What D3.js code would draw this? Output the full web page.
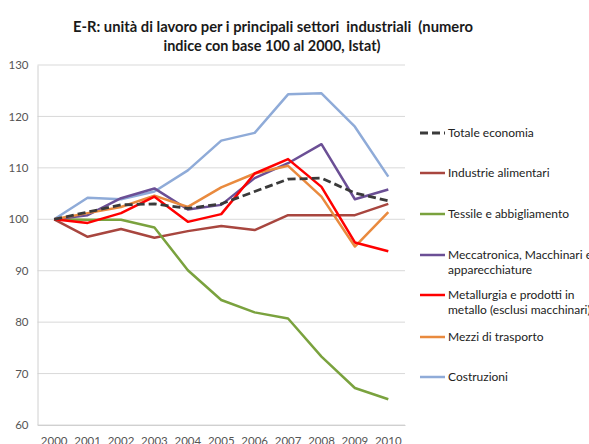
<!DOCTYPE html>
<html><head><meta charset="utf-8">
<script src="https://cdn.jsdelivr.net/npm/d3@7"></script>
<style>html,body{margin:0;padding:0;background:#fff;overflow:hidden}</style>
</head><body><svg id="c" width="589" height="444"></svg>
<script>
const years = ["2000","2001","2002","2003","2004","2005","2006","2007","2008","2009","2010"];
const yTicks = [60,70,80,90,100,110,120,130];
const seriesNames = ["Totale economia","Industrie alimentari","Tessile e abbigliamento","Meccatronica, Macchinari e apparecchiature","Metallurgia e prodotti in metallo (esclusi macchinari)","Mezzi di trasporto","Costruzioni"];
const totale =       [100,101.4,102.8,103.0,102.1,103.0,105.4,107.8,108.0,105.1,103.6];
const alimentari =   [100,96.6,98.1,96.4,97.7,98.7,97.9,100.8,100.8,100.8,103.0];
const tessile =      [100,99.9,99.9,98.4,90.1,84.3,81.9,80.7,73.3,67.2,65.0];
const meccatronica = [100,100.8,104.1,106.0,101.9,102.8,108.0,110.9,114.6,103.9,105.8];
const metallurgia =  [100,99.3,101.2,104.4,99.5,101.0,108.9,111.7,106.3,95.5,93.8];
const trasporto =    [100,101.2,102.4,104.6,102.4,106.2,108.9,110.4,104.4,94.7,101.4];
const costruzioni =  [100,104.2,103.9,105.4,109.5,115.3,116.8,124.3,124.5,118.0,108.3];

const seriesValues = [totale, alimentari, tessile, meccatronica, metallurgia, trasporto, costruzioni];
const colors = ["#3a3a3a","#a8463f","#7aa23e","#6b4f95","#ff0000","#e98a3e","#8fabd8"];
const legendLines = [["Totale economia"],["Industrie alimentari"],["Tessile e abbigliamento"],["Meccatronica, Macchinari e","apparecchiature"],["Metallurgia e prodotti in","metallo (esclusi macchinari)"],["Mezzi di trasporto"],["Costruzioni"]];
const legendY = [133,173,214,255,295,337,377];

(function(){
const svg = d3.select("#c");
const font = "Lato, 'Open Sans', sans-serif";
const pl = 37.5, pr = 405, pt = 65, pb = 425;

const x = d3.scaleBand().domain(years).range([pl, pr]);
const y = d3.scaleLinear().domain([60,130]).range([pb, pt]);

// title
const title = svg.append("text").attr("font-family", font).attr("font-weight","bold")
  .attr("font-size",15).attr("fill","#1a1a1a").attr("text-anchor","middle")
  .style("white-space","pre");
title.append("tspan").attr("x",273).attr("y",32).attr("textLength",400).attr("lengthAdjust","spacingAndGlyphs")
  .text("E-R: unità di lavoro per i principali settori  industriali  (numero");
title.append("tspan").attr("x",272).attr("y",51).attr("textLength",217).attr("lengthAdjust","spacingAndGlyphs")
  .text("indice con base 100 al 2000, Istat)");

// grid
svg.append("g").selectAll("line").data(yTicks).join("line")
  .attr("x1",pl).attr("x2",pr).attr("y1",d=>y(d)).attr("y2",d=>y(d))
  .attr("stroke","#d9d9d9").attr("stroke-width",1);

// axes
const yAxis = d3.axisLeft(y).tickValues(yTicks).tickSize(0).tickPadding(9);
const gy = svg.append("g").attr("transform",`translate(${pl},0)`).call(yAxis);
gy.select(".domain").attr("stroke","#d0d0d0");
gy.selectAll("text").attr("font-family",font).attr("font-size",11.5).attr("fill","#555");

const xAxis = d3.axisBottom(x).tickSize(0).tickPadding(12);
const gx = svg.append("g").attr("transform",`translate(0,${pb})`).call(xAxis);
gx.select(".domain").attr("stroke","#d0d0d0");
gx.selectAll("text").attr("font-family",font).attr("font-size",11.5).attr("fill","#555");

// lines
const line = d3.line().x((d,i)=>x(years[i])+x.bandwidth()/2).y(d=>y(d));
const order = [1,2,6,3,5,4,0];
order.forEach(k=>{
  svg.append("path").datum(seriesValues[k]).attr("d",line).attr("fill","none")
    .attr("stroke",colors[k]).attr("stroke-width", k===0?2.8:2.5)
    .attr("stroke-linejoin","round")
    .attr("stroke-dasharray", k===0?"8,4":null);
});

// legend
seriesNames.forEach((n,k)=>{
  const g = svg.append("g");
  g.append("line").attr("x1",420).attr("x2",445).attr("y1",legendY[k]).attr("y2",legendY[k])
    .attr("stroke",colors[k]).attr("stroke-width", k===0?3:2.5)
    .attr("stroke-dasharray", k===0?"8,4":null);
  const t = g.append("text").attr("font-family",font).attr("font-size",12).attr("fill","#222");
  legendLines[k].forEach((s,j)=>{
    t.append("tspan").attr("x",448).attr("y",legendY[k]+4+j*14.5).text(s);
  });
});
})();
</script></body></html>
